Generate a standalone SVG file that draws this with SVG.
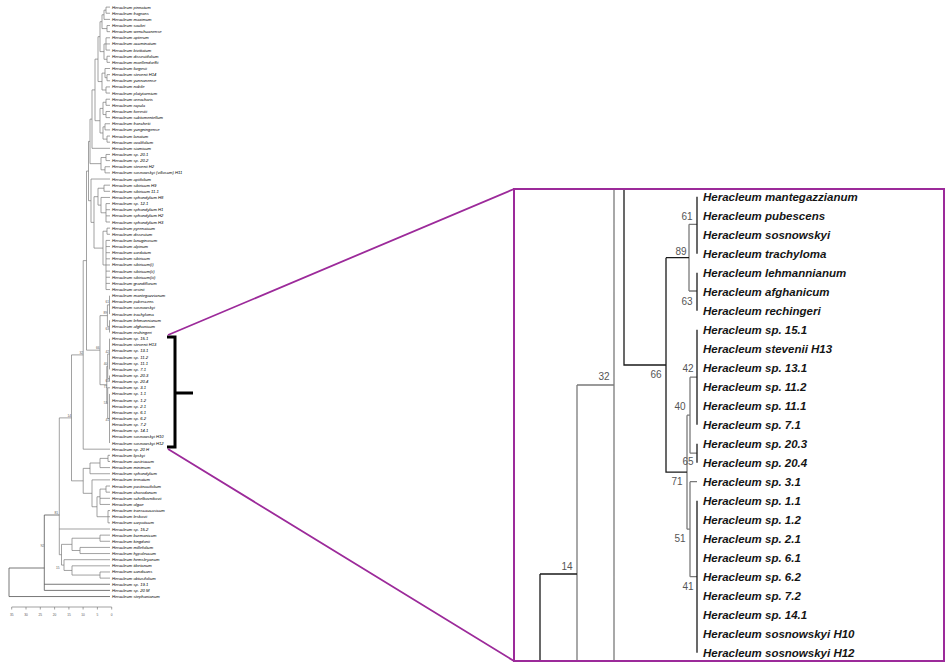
<svg xmlns="http://www.w3.org/2000/svg" width="946" height="662" viewBox="0 0 946 662">
<style>
.lt{font-family:"Liberation Sans",Arial,sans-serif;font-size:4.2px;fill:#000;font-style:italic}
.bs{font-family:"Liberation Sans",Arial,sans-serif;font-size:3.2px;fill:#555}
.tree{fill:none;stroke:#7a7a7a;stroke-width:0.7}
.dark{fill:none;stroke:#555;stroke-width:0.8}
.pl{font-family:"Liberation Sans",Arial,sans-serif;font-size:11.5px;font-weight:bold;font-style:italic;fill:#151515}
.pb{font-family:"Liberation Sans",Arial,sans-serif;font-size:10px;fill:#555;text-anchor:middle}
.pg{fill:none;stroke:#7a7a7a;stroke-width:1.3}
.pk{fill:none;stroke:#1a1a1a;stroke-width:1.3}
.mag{fill:none;stroke:#9c2a9a;stroke-width:1.8}
</style>
<rect x="0" y="0" width="946" height="662" fill="#fff"/>

<g id="connectors">
<path class="tree" d="M106,7.1V13.24M106,7.1H110M106,13.24H110M104,10.17V19.38M104,10.17H106M104,19.38H110M107,25.52V31.66M107,25.52H110M107,31.66H110M102,14.78V28.59M102,14.78H104M102,28.59H107M106,37.8V50.08M106,37.8H110M106,43.94H110M106,50.08H110M107,56.22V62.36M107,56.22H110M107,62.36H110M104,43.94V59.29M104,43.94H106M104,59.29H107M100,21.69V51.62M100,21.69H102M100,51.62H104M107,74.64V80.78M107,74.64H110M107,80.78H110M105,68.5V77.71M105,68.5H110M105,77.71H107M106,86.92V93.06M106,86.92H110M106,93.06H110M102,73.11V89.99M102,73.11H105M102,89.99H106M98,36.66V81.55M98,36.66H100M98,81.55H102M106,99.2V105.34M106,99.2H110M106,105.34H110M106,111.48V117.62M106,111.48H110M106,117.62H110M103,102.27V114.55M103,102.27H106M103,114.55H106M105,123.76V129.9M105,123.76H110M105,129.9H110M107,136.04V142.18M107,136.04H110M107,142.18H110M103,126.83V139.11M103,126.83H105M103,139.11H107M100,108.41V132.97M100,108.41H103M100,132.97H103M95,59.11V120.69M95,59.11H98M95,120.69H100M92,89.9V148.32M92,89.9H95M92,148.32H110M106,154.46V160.6M106,154.46H110M106,160.6H110M105,166.74V172.88M105,166.74H110M105,172.88H110M101,157.53V169.81M101,157.53H106M101,169.81H105M90,119.11V163.67M90,119.11H92M90,163.67H101"/>
<path class="tree" d="M104,185.16V191.3M104,185.16H110M104,191.3H110M106,203.58V222M106,203.58H110M106,209.72H110M106,215.86H110M106,222H110M101,197.44V212.79M101,197.44H110M101,212.79H106M98,188.23V205.12M98,188.23H104M98,205.12H101M107,228.14V234.28M107,228.14H110M107,234.28H110M106,240.42V289.54M106,240.42H110M106,246.56H110M106,252.7H110M106,258.84H110M106,264.98H110M106,271.12H110M106,277.26H110M106,283.4H110M106,289.54H110M103,231.21V264.98M103,231.21H107M103,264.98H106M94,196.68V248.1M94,196.68H98M94,248.1H103M91,179.02V222.39M91,179.02H110M91,222.39H94M88.5,141.39V200.71M88.5,141.39H90M88.5,200.71H91"/>
<path class="tree" d="M109.5,295.68V314.1M109.5,320.24V332.52M107.4,304.89V326.38M107.4,304.89H109.5M107.4,326.38H109.5M109.5,338.66V369.36M109.5,375.5V381.64M107.7,354.01V378.57M107.7,354.01H109.5M107.7,378.57H109.5M109.5,393.92V443.04M107.7,387.78V418.48M107.7,387.78H110M107.7,418.48H109.5M106.8,366.29V403.13M106.8,366.29H107.7M106.8,403.13H107.7M100,315.63V384.71M100,315.63H107.4M100,384.71H106.8M86.5,171.05V350.17M86.5,171.05H88.5M86.5,350.17H100M83.2,260.61V449.18M83.2,260.61H86.5M83.2,449.18H110"/>
<path class="tree" d="M108,455.32V461.46M108,455.32H110M108,461.46H110M100,458.39V467.6M100,458.39H108M100,467.6H110M90,463V473.74M90,463H100M90,473.74H110M106,486.02V492.16M106,486.02H110M106,492.16H110M100,489.09V504.44M100,489.09H106M100,498.3H110M100,504.44H110M108,510.58V522.86M108,510.58H110M108,516.72H110M108,522.86H110M97,496.77V516.72M97,496.77H100M97,516.72H108M92,479.88V506.75M92,479.88H110M92,506.75H97M83.2,468.37V493.32M83.2,468.37H90M83.2,493.32H92M71.5,354.9V480.85M71.5,354.9H83.2M71.5,480.85H83.2"/>
<path class="tree" d="M100,535.14V541.28M100,535.14H110M100,541.28H110M80,547.42V553.56M80,547.42H110M80,553.56H110M72,538.21V550.49M72,538.21H100M72,550.49H80M100,571.98V578.12M100,571.98H110M100,578.12H110M72,565.84V575.05M72,565.84H110M72,575.05H100M64,559.7V570.45M64,559.7H110M64,570.45H72M61.5,544.35V565.08M61.5,544.35H72M61.5,565.08H64M59.3,417.88V554.71M59.3,417.88H71.5M59.3,529H110M59.3,554.71H61.5"/>
<path class="dark" d="M44.3,515V590.4M44.3,515H59.3M44.3,584.26H110M44.3,590.4H110M9,568V596.54M9,568H44.3M9,596.54H110"/>
<path class="tree" d="M11.7,607H111.7M11.7,607V609.5M26,607V609.5M40.3,607V609.5M54.6,607V609.5M68.9,607V609.5M83.1,607V609.5M97.4,607V609.5M111.7,607V609.5"/>
<path d="M167,337H175V447H167M175,393H193" fill="none" stroke="#000" stroke-width="3"/>
<path class="mag" d="M168,335L514,189M168,449L514,661"/>
<path class="pg" d="M614,189V661M577,385V661M577,385H614M689,224.3V291M689,224.3H697M689,291H697M690,377.2V453.2M690,377.2H697M690,453.2H697M690,481.7V576.7M690,481.7H697M690,576.7H697M687,415.2V529.2M687,415.2H690M687,529.2H690"/>
<path class="pk" d="M624,189V365H666M666,257.7V472.2H687M666,257.7H689M697,196.7V253.7M697,272.7V310.7M697,329.7V424.7M697,443.7V462.7M697,500.7V652.7M540,574V661M540,574H577"/>
<rect x="514" y="189" width="430" height="472" fill="none" stroke="#9c2a9a" stroke-width="2"/>
</g>

<g id="left-bootstrap">
<text class="bs" x="105.5" y="303">61</text>
<text class="bs" x="103.6" y="314">89</text>
<text class="bs" x="105.6" y="330">63</text>
<text class="bs" x="105.6" y="352.5">42</text>
<text class="bs" x="96" y="348.8">66</text>
<text class="bs" x="103.8" y="365">40</text>
<text class="bs" x="105.6" y="382">65</text>
<text class="bs" x="103.8" y="388">71</text>
<text class="bs" x="103.8" y="404">51</text>
<text class="bs" x="105.6" y="421">41</text>
<text class="bs" x="79.5" y="353.5">32</text>
<text class="bs" x="67.5" y="416.5">14</text>
<text class="bs" x="40.5" y="547">92</text>
<text class="bs" x="54.5" y="513.5">81</text>
<text class="bs" x="56" y="568.5">15</text>
</g>

<g id="left-leaves">
<text id="leaf-0" class="lt" x="112" y="8.6">Heracleum pinnatum</text>
<text id="leaf-1" class="lt" x="112" y="14.74">Heracleum fragrans</text>
<text id="leaf-2" class="lt" x="112" y="20.88">Heracleum maximum</text>
<text id="leaf-3" class="lt" x="112" y="27.02">Heracleum souliei</text>
<text id="leaf-4" class="lt" x="112" y="33.16">Heracleum wenchuanense</text>
<text id="leaf-5" class="lt" x="112" y="39.3">Heracleum apterum</text>
<text id="leaf-6" class="lt" x="112" y="45.44">Heracleum acuminatum</text>
<text id="leaf-7" class="lt" x="112" y="51.58">Heracleum bivittatum</text>
<text id="leaf-8" class="lt" x="112" y="57.72">Heracleum dissectifolium</text>
<text id="leaf-9" class="lt" x="112" y="63.86">Heracleum moellendorffii</text>
<text id="leaf-10" class="lt" x="112" y="70">Heracleum fargesii</text>
<text id="leaf-11" class="lt" x="112" y="76.14">Heracleum stevenii H14</text>
<text id="leaf-12" class="lt" x="112" y="82.28">Heracleum yunnanense</text>
<text id="leaf-13" class="lt" x="112" y="88.42">Heracleum nobile</text>
<text id="leaf-14" class="lt" x="112" y="94.56">Heracleum platytaenium</text>
<text id="leaf-15" class="lt" x="112" y="100.7">Heracleum oreocharis</text>
<text id="leaf-16" class="lt" x="112" y="106.84">Heracleum rapula</text>
<text id="leaf-17" class="lt" x="112" y="112.98">Heracleum forrestii</text>
<text id="leaf-18" class="lt" x="112" y="119.12">Heracleum subtomentellum</text>
<text id="leaf-19" class="lt" x="112" y="125.26">Heracleum franchetii</text>
<text id="leaf-20" class="lt" x="112" y="131.4">Heracleum yungningense</text>
<text id="leaf-21" class="lt" x="112" y="137.54">Heracleum lanatum</text>
<text id="leaf-22" class="lt" x="112" y="143.68">Heracleum ovalifolium</text>
<text id="leaf-23" class="lt" x="112" y="149.82">Heracleum siamicum</text>
<text id="leaf-24" class="lt" x="112" y="155.96">Heracleum sp. 20.1</text>
<text id="leaf-25" class="lt" x="112" y="162.1">Heracleum sp. 20.2</text>
<text id="leaf-26" class="lt" x="112" y="168.24">Heracleum stevenii H2</text>
<text id="leaf-27" class="lt" x="112" y="174.38">Heracleum sosnowskyi (villosum) H11</text>
<text id="leaf-28" class="lt" x="112" y="180.52">Heracleum apiifolium</text>
<text id="leaf-29" class="lt" x="112" y="186.66">Heracleum sibiricum H9</text>
<text id="leaf-30" class="lt" x="112" y="192.8">Heracleum sibiricum 11.1</text>
<text id="leaf-31" class="lt" x="112" y="198.94">Heracleum sphondylium H8</text>
<text id="leaf-32" class="lt" x="112" y="205.08">Heracleum sp. 12.1</text>
<text id="leaf-33" class="lt" x="112" y="211.22">Heracleum sphondylium H1</text>
<text id="leaf-34" class="lt" x="112" y="217.36">Heracleum sphondylium H2</text>
<text id="leaf-35" class="lt" x="112" y="223.5">Heracleum sphondylium H3</text>
<text id="leaf-36" class="lt" x="112" y="229.64">Heracleum pyrenaicum</text>
<text id="leaf-37" class="lt" x="112" y="235.78">Heracleum dissectum</text>
<text id="leaf-38" class="lt" x="112" y="241.92">Heracleum lanuginosum</text>
<text id="leaf-39" class="lt" x="112" y="248.06">Heracleum alpinum</text>
<text id="leaf-40" class="lt" x="112" y="254.2">Heracleum cordatum</text>
<text id="leaf-41" class="lt" x="112" y="260.34">Heracleum sibiricum</text>
<text id="leaf-42" class="lt" x="112" y="266.48">Heracleum sibiricum(i)</text>
<text id="leaf-43" class="lt" x="112" y="272.62">Heracleum sibiricum(ii)</text>
<text id="leaf-44" class="lt" x="112" y="278.76">Heracleum sibiricum(iii)</text>
<text id="leaf-45" class="lt" x="112" y="284.9">Heracleum grandiflorum</text>
<text id="leaf-46" class="lt" x="112" y="291.04">Heracleum orsinii</text>
<text id="leaf-47" class="lt" x="112" y="297.18">Heracleum mantegazzianum</text>
<text id="leaf-48" class="lt" x="112" y="303.32">Heracleum pubescens</text>
<text id="leaf-49" class="lt" x="112" y="309.46">Heracleum sosnowskyi</text>
<text id="leaf-50" class="lt" x="112" y="315.6">Heracleum trachyloma</text>
<text id="leaf-51" class="lt" x="112" y="321.74">Heracleum lehmannianum</text>
<text id="leaf-52" class="lt" x="112" y="327.88">Heracleum afghanicum</text>
<text id="leaf-53" class="lt" x="112" y="334.02">Heracleum rechingeri</text>
<text id="leaf-54" class="lt" x="112" y="340.16">Heracleum sp. 15.1</text>
<text id="leaf-55" class="lt" x="112" y="346.3">Heracleum stevenii H13</text>
<text id="leaf-56" class="lt" x="112" y="352.44">Heracleum sp. 13.1</text>
<text id="leaf-57" class="lt" x="112" y="358.58">Heracleum sp. 11.2</text>
<text id="leaf-58" class="lt" x="112" y="364.72">Heracleum sp. 11.1</text>
<text id="leaf-59" class="lt" x="112" y="370.86">Heracleum sp. 7.1</text>
<text id="leaf-60" class="lt" x="112" y="377">Heracleum sp. 20.3</text>
<text id="leaf-61" class="lt" x="112" y="383.14">Heracleum sp. 20.4</text>
<text id="leaf-62" class="lt" x="112" y="389.28">Heracleum sp. 3.1</text>
<text id="leaf-63" class="lt" x="112" y="395.42">Heracleum sp. 1.1</text>
<text id="leaf-64" class="lt" x="112" y="401.56">Heracleum sp. 1.2</text>
<text id="leaf-65" class="lt" x="112" y="407.7">Heracleum sp. 2.1</text>
<text id="leaf-66" class="lt" x="112" y="413.84">Heracleum sp. 6.1</text>
<text id="leaf-67" class="lt" x="112" y="419.98">Heracleum sp. 6.2</text>
<text id="leaf-68" class="lt" x="112" y="426.12">Heracleum sp. 7.2</text>
<text id="leaf-69" class="lt" x="112" y="432.26">Heracleum sp. 14.1</text>
<text id="leaf-70" class="lt" x="112" y="438.4">Heracleum sosnowskyi H10</text>
<text id="leaf-71" class="lt" x="112" y="444.54">Heracleum sosnowskyi H12</text>
<text id="leaf-72" class="lt" x="112" y="450.68">Heracleum sp. 20 H</text>
<text id="leaf-73" class="lt" x="112" y="456.82">Heracleum lipskyi</text>
<text id="leaf-74" class="lt" x="112" y="462.96">Heracleum austriacum</text>
<text id="leaf-75" class="lt" x="112" y="469.1">Heracleum minimum</text>
<text id="leaf-76" class="lt" x="112" y="475.24">Heracleum sphondylium</text>
<text id="leaf-77" class="lt" x="112" y="481.38">Heracleum ternatum</text>
<text id="leaf-78" class="lt" x="112" y="487.52">Heracleum pastinacifolium</text>
<text id="leaf-79" class="lt" x="112" y="493.66">Heracleum chorodanum</text>
<text id="leaf-80" class="lt" x="112" y="499.8">Heracleum schelkovnikovii</text>
<text id="leaf-81" class="lt" x="112" y="505.94">Heracleum olgae</text>
<text id="leaf-82" class="lt" x="112" y="512.08">Heracleum transcaucasicum</text>
<text id="leaf-83" class="lt" x="112" y="518.22">Heracleum leskovii</text>
<text id="leaf-84" class="lt" x="112" y="524.36">Heracleum carpaticum</text>
<text id="leaf-85" class="lt" x="112" y="530.5">Heracleum sp. 15.2</text>
<text id="leaf-86" class="lt" x="112" y="536.64">Heracleum burmanicum</text>
<text id="leaf-87" class="lt" x="112" y="542.78">Heracleum kingdonii</text>
<text id="leaf-88" class="lt" x="112" y="548.92">Heracleum millefolium</text>
<text id="leaf-89" class="lt" x="112" y="555.06">Heracleum hypoleucum</text>
<text id="leaf-90" class="lt" x="112" y="561.2">Heracleum hemsleyanum</text>
<text id="leaf-91" class="lt" x="112" y="567.34">Heracleum tibetanum</text>
<text id="leaf-92" class="lt" x="112" y="573.48">Heracleum candicans</text>
<text id="leaf-93" class="lt" x="112" y="579.62">Heracleum obtusifolium</text>
<text id="leaf-94" class="lt" x="112" y="585.76">Heracleum sp. 19.1</text>
<text id="leaf-95" class="lt" x="112" y="591.9">Heracleum sp. 20 M</text>
<text id="leaf-96" class="lt" x="112" y="598.04">Heracleum stephanianum</text>
</g>

<g id="scale-labels" class="bs" text-anchor="middle">
<text x="11.7" y="615.5">35</text><text x="26" y="615.5">30</text><text x="40.3" y="615.5">25</text><text x="54.6" y="615.5">20</text><text x="68.9" y="615.5">15</text><text x="83.1" y="615.5">10</text><text x="97.4" y="615.5">5</text><text x="111.7" y="615.5">0</text>
</g>

<g id="panel-bootstrap">
<text class="pb" x="687" y="219.5">61</text>
<text class="pb" x="681" y="254.5">89</text>
<text class="pb" x="687" y="304.5">63</text>
<text class="pb" x="688" y="371.8">42</text>
<text class="pb" x="656" y="377.8">66</text>
<text class="pb" x="604" y="380.2">32</text>
<text class="pb" x="680" y="410.2">40</text>
<text class="pb" x="688" y="465.2">65</text>
<text class="pb" x="677" y="485.2">71</text>
<text class="pb" x="680" y="541.8">51</text>
<text class="pb" x="688" y="589.5">41</text>
<text class="pb" x="567" y="569.5">14</text>
</g>

<g id="panel-leaves">
<g id="p-mantegazzianum"><text class="pl" x="703" y="200.7">Heracleum mantegazzianum</text></g>
<g id="p-pubescens"><text class="pl" x="703" y="219.7">Heracleum pubescens</text></g>
<g id="p-sosnowskyi"><text class="pl" x="703" y="238.7">Heracleum sosnowskyi</text></g>
<g id="p-trachyloma"><text class="pl" x="703" y="257.7">Heracleum trachyloma</text></g>
<g id="p-lehmannianum"><text class="pl" x="703" y="276.7">Heracleum lehmannianum</text></g>
<g id="p-afghanicum"><text class="pl" x="703" y="295.7">Heracleum afghanicum</text></g>
<g id="p-rechingeri"><text class="pl" x="703" y="314.7">Heracleum rechingeri</text></g>
<g id="p-sp151"><text class="pl" x="703" y="333.7">Heracleum sp. 15.1</text></g>
<g id="p-stevenii-h13"><text class="pl" x="703" y="352.7">Heracleum stevenii H13</text></g>
<g id="p-sp131"><text class="pl" x="703" y="371.7">Heracleum sp. 13.1</text></g>
<g id="p-sp112"><text class="pl" x="703" y="390.7">Heracleum sp. 11.2</text></g>
<g id="p-sp111"><text class="pl" x="703" y="409.7">Heracleum sp. 11.1</text></g>
<g id="p-sp71"><text class="pl" x="703" y="428.7">Heracleum sp. 7.1</text></g>
<g id="p-sp203"><text class="pl" x="703" y="447.7">Heracleum sp. 20.3</text></g>
<g id="p-sp204"><text class="pl" x="703" y="466.7">Heracleum sp. 20.4</text></g>
<g id="p-sp31"><text class="pl" x="703" y="485.7">Heracleum sp. 3.1</text></g>
<g id="p-sp11"><text class="pl" x="703" y="504.7">Heracleum sp. 1.1</text></g>
<g id="p-sp12"><text class="pl" x="703" y="523.7">Heracleum sp. 1.2</text></g>
<g id="p-sp21"><text class="pl" x="703" y="542.7">Heracleum sp. 2.1</text></g>
<g id="p-sp61"><text class="pl" x="703" y="561.7">Heracleum sp. 6.1</text></g>
<g id="p-sp62"><text class="pl" x="703" y="580.7">Heracleum sp. 6.2</text></g>
<g id="p-sp72"><text class="pl" x="703" y="599.7">Heracleum sp. 7.2</text></g>
<g id="p-sp141"><text class="pl" x="703" y="618.7">Heracleum sp. 14.1</text></g>
<g id="p-sosnowskyi-h10"><text class="pl" x="703" y="637.7">Heracleum sosnowskyi H10</text></g>
<g id="p-sosnowskyi-h12"><text class="pl" x="703" y="656.7">Heracleum sosnowskyi H12</text></g>
</g>
</svg>
